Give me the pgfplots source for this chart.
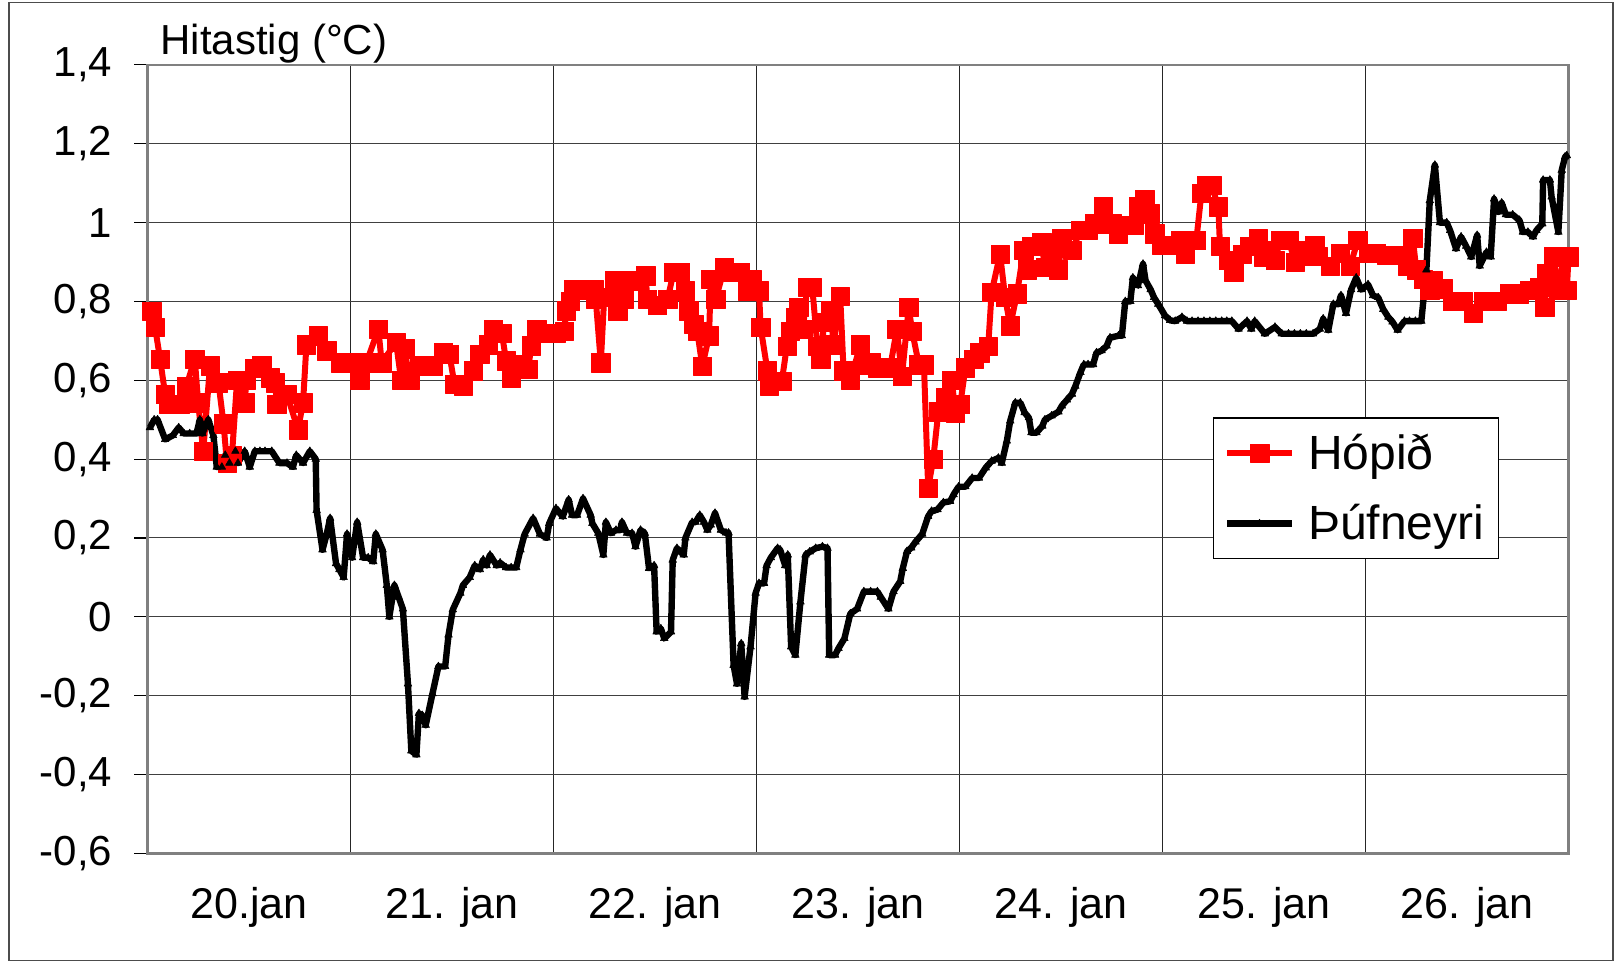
\documentclass[border=0pt]{standalone}
\usepackage{fontspec}
\setmainfont{Liberation Sans}
\usepackage{pgfplots}
\pgfplotsset{compat=1.18}
\begin{document}
\begin{tikzpicture}
\useasboundingbox (-73.7pt,-54.85pt) rectangle (734.25pt,426.65pt);
\draw[black!70, line width=0.6pt] (-69.2pt,-53.4pt) rectangle (732.75pt,425.2pt);
\begin{axis}[
 at={(0pt,0pt)}, anchor=south west,
 scale only axis, width=710.5pt, height=394.2pt,
 xmin=0, xmax=168, ymin=-0.6, ymax=1.4,
 xtick={12,36,60,84,108,132,156},
 xticklabels={20.jan, 21. jan, 22. jan, 23. jan, 24. jan, 25. jan, 26. jan},
 minor xtick={24,48,72,96,120,144},
 xminorgrids=true, xmajorgrids=false, ymajorgrids=true,
 ytick={-0.6,-0.4,-0.2,0,0.2,0.4,0.6,0.8,1,1.2,1.4},
 yticklabels={{-0,6},{-0,4},{-0,2},{0},{0,2},{0,4},{0,6},{0,8},{1},{1,2},{1,4}},
 ytick pos=left, tick align=outside, major tick length=6.5pt, minor tick length=0pt,
 xtick style={draw=none},
 ytick style={black, line width=0.6pt},
 grid style={black!75, line width=0.5pt},
 minor grid style={black!85, line width=0.5pt},
 axis line style={black!50, line width=1.3pt},
 yticklabel style={font=\fontsize{21}{25}\selectfont, xshift=-7.5pt},
 xticklabel style={font=\fontsize{21.5}{25}\selectfont, yshift=-7pt},
 clip=false,
 legend style={at={(0.75,0.553)}, anchor=north west, draw=black, line width=0.6pt,
   font=\fontsize{24}{28}\selectfont, inner xsep=5pt, inner ysep=6pt, row sep=12pt},
 legend cell align=left,
 /tikz/every odd column/.append style={column sep=4.5pt},
 legend image code/.code={\draw[mark repeat=2,mark phase=2,#1] plot coordinates {(0pt,0pt) (16.25pt,0pt) (32.5pt,0pt)};},
]
\addplot[red, line width=3pt, line join=round, mark=square*, mark size=4.6pt, mark options={fill=red, draw=red, line width=0.2pt}] coordinates {
(0.5,0.775) (0.9,0.735) (1.5,0.654) (2.1,0.564) (2.5,0.54) (3.2,0.54) (3.9,0.54) (4.6,0.585) (5.6,0.654) (6.0,0.543) (6.6,0.42) (7.4,0.637) (8.4,0.594) (9.0,0.49) (9.4,0.39) (10.0,0.41) (10.6,0.60) (11.5,0.543) (11.7,0.60) (12.7,0.63) (13.5,0.637) (14.5,0.607) (15.1,0.594) (15.3,0.54) (16.5,0.564) (17.8,0.475) (18.4,0.543) (18.8,0.69) (20.2,0.713) (21.2,0.675) (22.8,0.645) (23.7,0.645) (25.1,0.60) (25.9,0.645) (27.3,0.73) (27.7,0.645) (29.4,0.696) (30.0,0.60) (30.4,0.68) (31.0,0.60) (32.2,0.637) (33.8,0.637) (35.0,0.67) (35.7,0.666) (36.3,0.59) (37.3,0.585) (38.5,0.624) (39.3,0.666) (40.3,0.69) (40.9,0.73) (41.9,0.72) (42.4,0.65) (43.0,0.607) (44.0,0.64) (45.0,0.628) (45.4,0.688) (46.0,0.73) (47.2,0.72) (48.3,0.72) (49.3,0.725) (49.5,0.776) (50.0,0.80) (50.4,0.83) (51.6,0.83) (52.8,0.83) (53.0,0.806) (53.6,0.645) (54.0,0.81) (55.2,0.853) (55.6,0.776) (56.3,0.806) (57.5,0.853) (58.9,0.865) (59.1,0.806) (60.3,0.79) (61.5,0.806) (62.2,0.874) (63.0,0.874) (63.6,0.827) (64.0,0.776) (64.6,0.742) (65.0,0.725) (65.6,0.636) (66.4,0.713) (66.6,0.857) (67.2,0.806) (68.2,0.886) (69.1,0.874) (70.1,0.874) (70.9,0.827) (71.5,0.857) (72.3,0.827) (72.5,0.734) (73.3,0.624) (73.5,0.585) (75.0,0.598) (75.6,0.687) (76.0,0.725) (76.6,0.76) (77.0,0.785) (77.5,0.73) (78.0,0.836) (78.6,0.836) (79.2,0.687) (79.6,0.653) (80.0,0.747) (80.8,0.776) (81.1,0.69) (81.9,0.814) (82.3,0.624) (83.1,0.60) (84.3,0.69) (84.8,0.64) (85.5,0.645) (86.3,0.632) (87.8,0.632) (88.6,0.73) (89.2,0.61) (90.0,0.785) (90.4,0.725) (91.2,0.64) (91.8,0.64) (92.3,0.327) (92.9,0.40) (93.5,0.52) (94.3,0.556) (95.1,0.60) (95.5,0.518) (96.1,0.539) (96.7,0.632) (97.7,0.653) (98.4,0.67) (99.4,0.687) (99.8,0.823) (100.8,0.92) (101.4,0.81) (102.0,0.738) (102.8,0.82) (103.6,0.93) (104.0,0.88) (104.5,0.94) (105.7,0.95) (106.1,0.887) (106.9,0.917) (107.7,0.88) (108.1,0.96) (109.3,0.93) (110.3,0.98) (111.2,0.98) (112.0,0.997) (113.0,1.04) (114.0,0.997) (114.8,0.972) (115.8,0.993) (116.6,0.993) (117.1,1.04) (117.9,1.06) (118.5,1.023) (119.1,0.972) (119.9,0.943) (121.1,0.943) (122.1,0.955) (122.7,0.92) (124.0,0.955) (124.6,1.074) (125.2,1.095) (125.8,1.095) (126.6,1.04) (126.8,0.94) (127.8,0.904) (128.4,0.875) (129.4,0.92) (130.3,0.94) (131.3,0.96) (131.9,0.913) (132.7,0.93) (133.3,0.904) (133.9,0.955) (134.9,0.955) (135.7,0.90) (136.3,0.914) (137.0,0.93) (138.0,0.943) (138.4,0.914) (139.8,0.89) (141.0,0.923) (142.2,0.89) (143.1,0.956) (144.3,0.923) (145.3,0.923) (146.5,0.918) (148.1,0.918) (148.9,0.89) (149.6,0.96) (150.0,0.88) (150.8,0.856) (151.6,0.83) (152.0,0.853) (153.2,0.832) (154.3,0.80) (155.5,0.80) (156.7,0.77) (157.9,0.80) (159.5,0.80) (161.0,0.82) (162.2,0.82) (163.4,0.828) (164.6,0.836) (165.2,0.786) (165.4,0.87) (166.2,0.913) (166.8,0.828) (167.4,0.913) (167.8,0.828) (168,0.913)
};
\addlegendentry{Hópið}
\addplot[black, line width=3.2pt, line join=round, mark=triangle*, mark size=2.2pt, mark options={fill=black, draw=black, line width=0.3pt}] coordinates {
(0.3,0.48) (0.8,0.50) (1.2,0.50) (2.1,0.45) (3.0,0.46) (3.7,0.48) (4.3,0.465) (5.0,0.465) (5.8,0.465) (6.2,0.50) (6.5,0.465) (7.2,0.50) (7.8,0.46) (8.2,0.38) (8.8,0.38) (9.2,0.41) (9.7,0.39) (10.4,0.42) (10.7,0.39) (11.5,0.42) (12.1,0.38) (12.7,0.42) (13.3,0.42) (13.9,0.42) (14.7,0.42) (15.6,0.39) (16.5,0.39) (17.2,0.38) (17.6,0.41) (18.4,0.39) (19.2,0.42) (19.9,0.40) (20.0,0.27) (20.7,0.17) (21.2,0.21) (21.6,0.25) (22.3,0.135) (22.7,0.12) (23.2,0.10) (23.6,0.21) (24.2,0.15) (24.8,0.24) (25.5,0.15) (26.1,0.15) (26.7,0.14) (27.0,0.21) (27.8,0.17) (28.3,0.08) (28.6,0.0) (29.2,0.08) (29.7,0.05) (30.2,0.02) (30.8,-0.17) (31.2,-0.34) (31.8,-0.35) (32.1,-0.245) (32.5,-0.25) (32.9,-0.275) (33.7,-0.195) (34.4,-0.126) (35.2,-0.126) (35.6,-0.046) (36.1,0.018) (37.0,0.06) (37.3,0.08) (38.1,0.10) (38.7,0.13) (39.3,0.12) (39.7,0.145) (40.1,0.13) (40.5,0.157) (41.3,0.13) (41.7,0.137) (42.4,0.125) (43.0,0.125) (43.6,0.125) (44.1,0.17) (44.6,0.21) (45.6,0.25) (46.4,0.21) (47.2,0.20) (47.5,0.237) (48.3,0.275) (49.1,0.254) (49.8,0.297) (50.2,0.258) (50.8,0.258) (51.5,0.30) (52.4,0.258) (52.6,0.237) (53.3,0.212) (53.9,0.157) (54.2,0.24) (54.8,0.212) (55.4,0.22) (55.9,0.22) (56.1,0.24) (56.7,0.212) (57.3,0.212) (57.7,0.178) (58.3,0.22) (58.8,0.212) (59.3,0.123) (59.9,0.13) (60.2,-0.038) (60.7,-0.03) (61.1,-0.055) (61.9,-0.038) (62.1,0.144) (62.6,0.174) (63.4,0.157) (63.6,0.20) (64.4,0.24) (64.8,0.24) (65.3,0.258) (65.8,0.24) (66.2,0.22) (66.6,0.233) (67.1,0.263) (67.8,0.22) (68.4,0.213) (68.7,0.213) (69.3,-0.123) (69.7,-0.17) (70.2,-0.068) (70.6,-0.203) (71.3,-0.076) (71.9,0.06) (72.3,0.085) (72.9,0.085) (73.2,0.13) (73.7,0.15) (74.5,0.174) (74.8,0.17) (75.4,0.13) (75.7,0.157) (76.1,-0.076) (76.6,-0.097) (77.2,0.038) (77.8,0.157) (78.3,0.165) (79.0,0.174) (79.8,0.178) (80.4,0.174) (80.6,-0.097) (81.3,-0.097) (81.7,-0.08) (82.4,-0.055) (83.1,0.008) (83.9,0.02) (84.7,0.064) (85.5,0.064) (86.3,0.064) (86.7,0.05) (87.6,0.02) (88.2,0.064) (89.0,0.09) (89.3,0.123) (89.8,0.166) (90.3,0.175) (90.8,0.19) (91.6,0.21) (92.3,0.255) (92.7,0.268) (93.4,0.272) (94.1,0.29) (94.9,0.293) (95.3,0.31) (95.9,0.33) (96.7,0.33) (97.5,0.352) (98.3,0.352) (99.1,0.378) (99.8,0.395) (100.6,0.403) (101.0,0.39) (101.6,0.446) (102.0,0.497) (102.6,0.543) (103.2,0.543) (103.7,0.518) (104.2,0.505) (104.5,0.467) (105.1,0.467) (105.8,0.484) (106.1,0.50) (106.9,0.51) (107.7,0.52) (108.1,0.535) (108.7,0.55) (109.3,0.565) (109.7,0.585) (110.3,0.62) (110.7,0.64) (111.2,0.64) (111.8,0.64) (112.2,0.67) (112.8,0.675) (113.4,0.687) (113.8,0.708) (114.8,0.713) (115.2,0.713) (115.6,0.80) (116.2,0.80) (116.5,0.86) (117.1,0.84) (117.7,0.895) (118.0,0.853) (118.6,0.83) (119.0,0.81) (119.5,0.793) (120.3,0.764) (120.9,0.752) (121.5,0.75) (122.3,0.76) (122.9,0.75) (123.5,0.75) (124.2,0.75) (124.9,0.75) (125.6,0.75) (126.3,0.75) (127.0,0.75) (127.6,0.75) (128.2,0.75) (129.0,0.73) (130.0,0.75) (130.5,0.73) (130.9,0.75) (132.1,0.718) (133.3,0.735) (134.1,0.718) (134.9,0.718) (135.6,0.718) (136.3,0.718) (137.0,0.718) (137.8,0.718) (138.6,0.73) (139.0,0.756) (139.6,0.727) (140.2,0.793) (140.8,0.793) (141.1,0.815) (141.7,0.77) (142.3,0.83) (142.9,0.86) (143.5,0.83) (144.3,0.843) (144.9,0.815) (145.5,0.81) (146.1,0.78) (146.7,0.76) (147.2,0.748) (147.8,0.727) (148.6,0.75) (149.2,0.75) (149.9,0.75) (150.6,0.75) (151.2,0.88) (151.6,1.056) (152.2,1.146) (152.8,1.0) (153.6,1.0) (154.0,0.98) (154.7,0.934) (155.3,0.964) (155.9,0.94) (156.5,0.913) (157.2,0.968) (157.5,0.89) (158.3,0.925) (158.8,0.913) (159.2,1.06) (159.7,1.027) (160.1,1.05) (160.6,1.02) (161.4,1.02) (162.2,1.006) (162.6,0.976) (163.2,0.976) (163.8,0.964) (164.2,0.98) (164.9,0.997) (165.0,1.108) (165.8,1.108) (166.0,1.065) (166.8,0.976) (167.2,1.133) (167.6,1.167) (167.8,1.17)
};
\addlegendentry{Þúfneyri}
\end{axis}
\node[anchor=base west, font=\fontsize{21}{25}\selectfont, inner sep=0pt] at (6.3pt,399.5pt) {Hitastig (°C)};
\end{tikzpicture}
\end{document}
